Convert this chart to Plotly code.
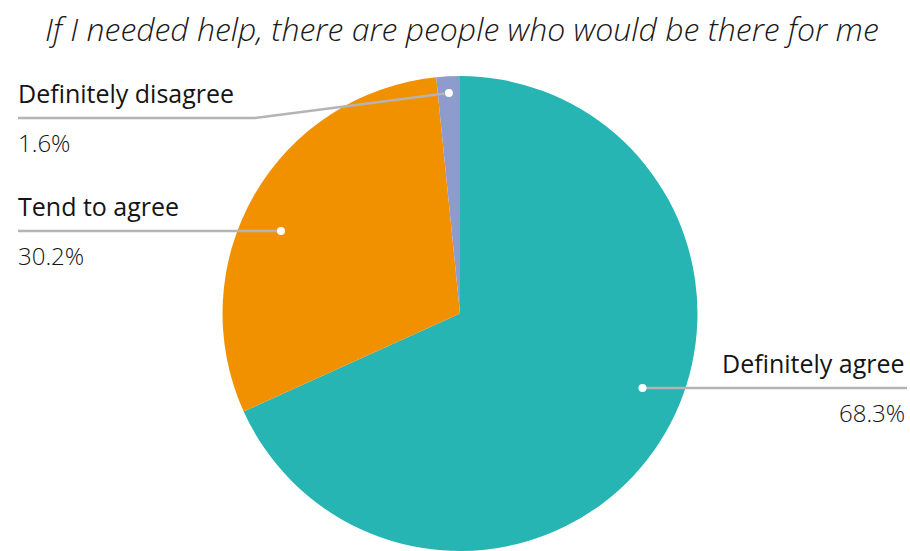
import math
import plotly.graph_objects as go

# Survey responses
categories = ["Definitely agree", "Tend to agree", "Definitely disagree"]
shares = [68.3, 30.2, 1.6]
share_labels = ["68.3%", "30.2%", "1.6%"]
colors = ["#26B5B3", "#F29100", "#8E9BCD"]
title_text = "If I needed help, there are people who would be there for me"

W, H = 910, 551
FONT = "Open Sans, Noto Sans, sans-serif"
INK = "#141414"
LEADER = "#b4b4b4"

# Pie placement (paper domain) and the resulting pixel geometry
dom_x = [10 / W, 1.0]
dom_y = [0.0, 0.862]
cx = W * (dom_x[0] + dom_x[1]) / 2
cy = H * (1 - (dom_y[0] + dom_y[1]) / 2)
radius = min(W * (dom_x[1] - dom_x[0]), H * (dom_y[1] - dom_y[0])) / 2


def px(x):
    return x / W


def py(y):
    return 1 - y / H


total = sum(shares)
mids = []
acc = 0.0
for v in shares:
    mids.append((acc + v / 2) / total * 360)
    acc += v


def polar(angle_deg, r):
    a = math.radians(angle_deg)
    return cx + r * math.sin(a), cy - r * math.cos(a)


fig = go.Figure(
    go.Pie(
        labels=categories,
        values=shares,
        marker=dict(colors=colors, line=dict(width=0)),
        sort=False,
        direction="clockwise",
        rotation=0,
        textinfo="none",
        hoverinfo="label+percent",
        domain=dict(x=dom_x, y=dom_y),
        showlegend=False,
    )
)

shapes = []
annotations = []


def add_texts(idx, x, ly, anchor):
    annotations.append(dict(text=categories[idx], x=px(x), y=py(ly - 25),
                            xref="paper", yref="paper", xanchor=anchor, yanchor="middle",
                            showarrow=False, font=dict(family=FONT, size=25, color=INK)))
    annotations.append(dict(text=share_labels[idx], x=px(x), y=py(ly + 24.5),
                            xref="paper", yref="paper", xanchor=anchor, yanchor="middle",
                            showarrow=False,
                            font=dict(family=FONT, size=24, color=INK, weight=300)))


def add_dot(x, y):
    shapes.append(dict(type="circle", xref="paper", yref="paper",
                       x0=px(x - 4), y0=py(y - 4), x1=px(x + 4), y1=py(y + 4),
                       fillcolor="white", line=dict(width=0)))


# Label rows: (slice index, leader y in px, side)
rows = [(0, 388, "right"), (1, 231, "left")]
for idx, ly, side in rows:
    r_dot = 0.83 * radius
    dy = ly - cy
    dx = math.sqrt(max(r_dot ** 2 - dy ** 2, 0))
    dot_x = cx + dx if side == "right" else cx - dx
    end_x = 907 if side == "right" else 18
    shapes.append(dict(type="line", xref="paper", yref="paper",
                       x0=px(dot_x), y0=py(ly), x1=px(end_x), y1=py(ly),
                       line=dict(color=LEADER, width=2.5)))
    add_dot(dot_x, ly)
    add_texts(idx, end_x if side == "right" else end_x - 2, ly, side)

# Thin slice: dot inside the wedge, bent leader out to the left
idx = 2
dot_x, dot_y = polar(mids[idx], 0.93 * radius)
ly = 118
elbow_x = 255
shapes.append(dict(type="path", xref="paper", yref="paper",
                   path=f"M {px(dot_x)},{py(dot_y)} L {px(elbow_x)},{py(ly)} L {px(18)},{py(ly)}",
                   line=dict(color=LEADER, width=2.5)))
add_dot(dot_x, dot_y)
add_texts(idx, 16, ly, "left")

# Title
annotations.append(dict(text=f"<i>{title_text}</i>", x=px(462), y=py(28),
                        xref="paper", yref="paper", xanchor="center", yanchor="middle",
                        showarrow=False,
                        font=dict(family=FONT, size=32, color="#1a1a1a", weight=300)))

fig.update_layout(
    width=W,
    height=H,
    margin=dict(l=0, r=0, t=0, b=0),
    paper_bgcolor="white",
    plot_bgcolor="white",
    shapes=shapes,
    annotations=annotations,
)

fig.write_html("out.html")
